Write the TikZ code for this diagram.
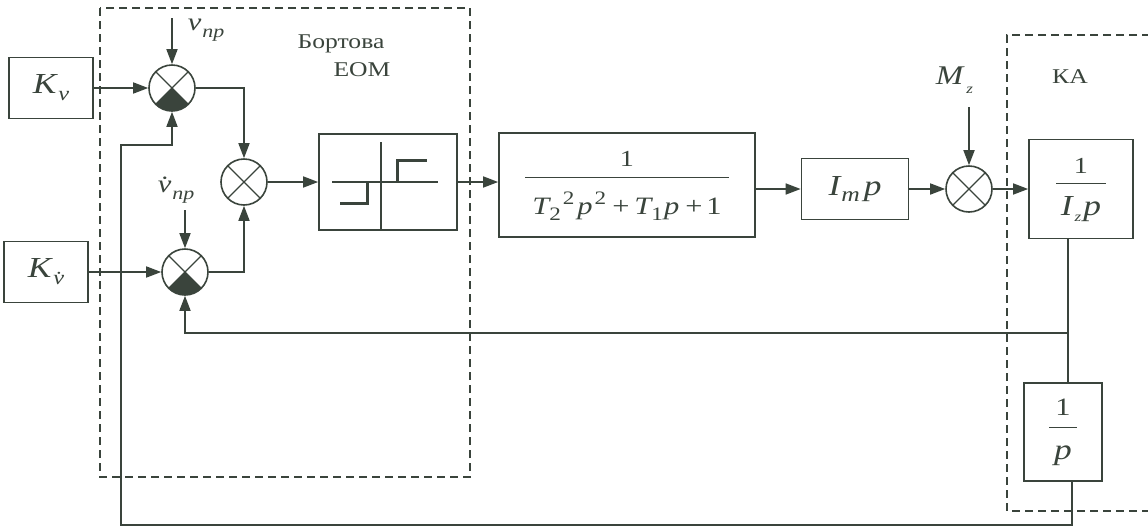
\documentclass[tikz,border=0pt]{standalone}
\usepackage{fontspec}
\setmainfont[FakeStretch=1.22]{Liberation Serif}
\usetikzlibrary{arrows.meta,calc}
\definecolor{ink}{RGB}{58,68,60}
\newcommand\sbx[2][19]{\raisebox{-6pt}{\fontsize{#1}{#1}\selectfont\upshape #2}}
\newcommand\spx[2][19]{\raisebox{10pt}{\fontsize{#1}{#1}\selectfont\upshape #2}}
\setlength\arrayrulewidth{1pt}
\begin{document}
\begin{tikzpicture}[x=1pt,y=-1pt,color=ink,line width=1.7pt,
  blk/.style={draw, rectangle, inner sep=0pt, line width=1.7pt},
  sumn/.style={draw, circle, minimum size=46pt, inner sep=0pt, line width=1.6pt,
    path picture={\draw[line width=1.3pt]
      (path picture bounding box.north west) -- (path picture bounding box.south east)
      (path picture bounding box.north east) -- (path picture bounding box.south west);}},
  sumf/.style={draw, circle, minimum size=46pt, inner sep=0pt, line width=1.6pt,
    path picture={\fill (path picture bounding box.center) -- (path picture bounding box.south west)
        -- (path picture bounding box.south east) -- cycle;
      \draw[line width=1.3pt]
      (path picture bounding box.north west) -- (path picture bounding box.south east)
      (path picture bounding box.north east) -- (path picture bounding box.south west);}},
  arr/.style={-{Triangle[length=15pt,width=11pt]}, line width=1.7pt},
  wire/.style={line width=1.7pt},
  grp/.style={line width=1.7pt, dash pattern=on 8pt off 5pt},
  big/.style={font=\fontsize{29}{32}\selectfont},
  mid/.style={font=\fontsize{25}{28}\selectfont},
  lbl/.style={font=\fontsize{21}{24}\selectfont, inner sep=0pt},
]
\useasboundingbox (0,0) rectangle (1148,528);

% group frames
\draw[grp] (100,8) rectangle (470,477);
\draw[grp] (1150,35) -- (1007,35) -- (1007,511) -- (1150,511);
\node[lbl] (eom1) at (341,44) {Бортова};
\node[lbl] (eom2) at (362,70) {ЕОМ};
\node[lbl] (ka) at (1070,77) {КА};

% blocks
\node[blk, big, minimum width=84pt, minimum height=61pt] (Kv) at (51,88)
  {\itshape K\kern2pt\raisebox{-7pt}{\fontsize{20}{20}\selectfont v}};
\node[blk, big, minimum width=84pt, minimum height=61pt] (Kvd) at (46,272)
  {\itshape K\kern2pt\raisebox{-7pt}{\fontsize{20}{20}\selectfont \.{v}}};
\node[sumf] (s1) at (172,88) {};
\node[sumn] (s2) at (244,182) {};
\node[sumf] (s3) at (185,272) {};
\node[blk, minimum width=138pt, minimum height=96pt] (relay) at (388,182) {};
\node[blk, mid, minimum width=256pt, minimum height=104pt] (frac) at (627,185)
  {\begin{tabular}{@{}c@{}}{\fontsize{23}{26}\selectfont 1}\\[2pt]\hline\rule{0pt}{36pt}\makebox[204pt]{\itshape T\sbx{2}\kern2pt\spx{2}\kern3pt p\kern2pt\spx{2}\kern6pt\upshape+\kern5pt\itshape T\sbx{1}\kern1pt p\kern6pt\upshape+\kern4pt1}\end{tabular}};
\node[blk, big, minimum width=107pt, minimum height=61pt] (Imp) at (855,189)
  {\itshape I\kern1pt\raisebox{-6pt}{\fontsize{21}{21}\selectfont m}\kern4pt p};
\node[sumn] (s4) at (969,189) {};
\node[blk, mid, minimum width=104pt, minimum height=99pt] (Iz) at (1081,189)
  {\begin{tabular}{@{}c@{}}{\fontsize{23}{26}\selectfont 1}\\[1pt]\hline\rule{0pt}{32pt}\makebox[50pt]{\itshape\fontsize{29}{32}\selectfont I\kern2pt\raisebox{-6pt}{\fontsize{14}{14}\selectfont z}\kern2pt p}\end{tabular}};
\node[blk, mid, minimum width=78pt, minimum height=98pt] (pb) at (1063,432)
  {\begin{tabular}{@{}c@{}}{\fontsize{25}{26}\selectfont 1}\\[3pt]\hline\rule{0pt}{32pt}\makebox[28pt]{\itshape\fontsize{29}{32}\selectfont p}\end{tabular}};

% relay characteristic
\begin{scope}[shift={(relay.center)}]
  \draw[line width=1.3pt] (-7,-40) -- (-7,47);
  \draw[line width=1.3pt] (-56,0) -- (50,0);
  \draw[line width=3pt] (-48,21) -- (-21,21) -- (-21,0);
  \draw[line width=3pt] (9,0) -- (9,-22) -- (39,-22);
\end{scope}

% external inputs
\coordinate (vtop) at (172,18);
\coordinate (vdtop) at (185,210);
\coordinate (mtop) at (969,107);
\node[lbl, anchor=west, font=\fontsize{25}{26}\selectfont] (vnp) at (187,30)
  {\itshape v\kern1pt\raisebox{-7pt}{\fontsize{18}{18}\selectfont пр}};
\node[lbl, anchor=west, font=\fontsize{25}{26}\selectfont] (vdnp) at (157,190)
  {\itshape \.{v}\kern1pt\raisebox{-7pt}{\fontsize{18}{18}\selectfont пр}};
\node[lbl, anchor=west, font=\fontsize{27}{28}\selectfont] (mz) at (935,80)
  {\itshape M\kern3pt\raisebox{-9pt}{\fontsize{14}{14}\selectfont z}};

% connectors
\draw[arr] (Kv) -- (s1);
\draw[arr] (Kvd) -- (s3);
\draw[arr] (vtop) -- (s1.north);
\draw[arr] (vdtop) -- (s3.north);
\draw[arr] (s1.east) -| (s2.north);
\draw[arr] (s3.east) -| (s2.south);
\draw[arr] (s2) -- (relay);
\draw[arr] (relay.east) -- (relay.east -| frac.west);
\draw[arr] (frac.east |- Imp) -- (Imp.west);
\draw[arr] (Imp) -- (s4);
\draw[arr] (mtop) -- (s4.north);
\draw[arr] (s4) -- (Iz);

\coordinate (j) at (1068,333);
\coordinate (b1) at (1072,525);
\coordinate (b2) at (121,525);
\coordinate (b3) at (121,145);
\draw[wire] (Iz.south -| j) -- (j) -- (j |- pb.north);
\draw[arr] (j) -| (s3.south);
\draw[arr] (pb.south -| b1) -- (b1) -- (b2) -- (b3) -| (s1.south);
\end{tikzpicture}
\end{document}
